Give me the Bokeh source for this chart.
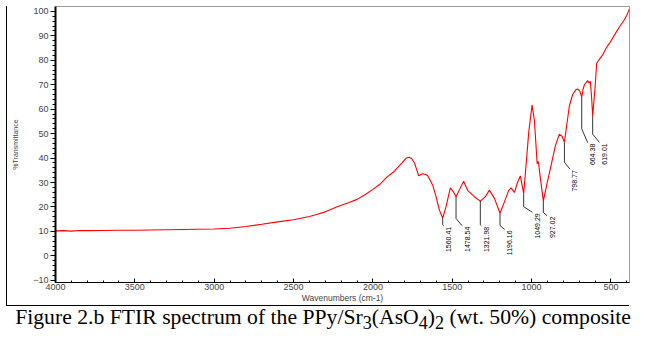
import numpy as np
from bokeh.plotting import figure
from bokeh.models import Range1d, FixedTicker, Div, Spacer
from bokeh.layouts import column, row
from bokeh.embed import file_html
from bokeh.resources import INLINE
from bokeh.core.properties import value

# ---------------- data ----------------
wavenumber = [4000, 3950, 3900, 3850, 3800, 3700, 3600, 3500, 3400, 3300, 3200, 3100,
              3000, 2900, 2800, 2700, 2600, 2500, 2400, 2350, 2300, 2225, 2150, 2100,
              2050, 2000, 1950, 1910, 1870, 1847, 1815, 1790, 1770, 1755, 1738, 1725,
              1711, 1695, 1686, 1668, 1655, 1623, 1602, 1581, 1560, 1539, 1512, 1493,
              1476, 1451, 1428, 1403, 1361, 1323, 1291, 1266, 1234, 1199, 1171, 1144,
              1129, 1108, 1088, 1071, 1050, 1035, 1018, 997, 982, 972, 965, 957, 947,
              926, 905, 877, 850, 825, 808, 793, 779, 762, 741, 720, 710, 697, 684,
              676, 667, 647, 640, 636, 630, 622, 615, 605, 598, 590, 573, 552, 531,
              510, 478, 447, 415, 400, 392, 387, 384]
transmittance = [10.2, 10.3, 10.1, 10.4, 10.3, 10.4, 10.5, 10.5, 10.6, 10.7, 10.8, 10.9,
                 11.0, 11.3, 12.0, 12.9, 13.9, 14.8, 16.1, 17.0, 18.0, 20.1, 21.8, 23.1,
                 25.0, 27.2, 29.6, 32.3, 34.3, 35.9, 38.1, 40.0, 40.3, 39.7, 38.0, 35.5,
                 32.7, 33.4, 33.6, 33.3, 32.9, 28.9, 24.2, 18.7, 15.4, 20.1, 27.8, 26.2,
                 24.2, 27.5, 30.5, 26.8, 24.2, 22.4, 24.2, 26.9, 23.5, 17.4, 22.1, 26.8,
                 27.8, 25.9, 30.2, 32.7, 25.5, 37.0, 50.5, 61.7, 55.2, 45.1, 37.7, 38.6,
                 32.9, 22.5, 28.9, 37.0, 45.1, 49.8, 48.9, 46.4, 53.2, 61.3, 66.0, 68.0,
                 68.3, 67.5, 64.9, 68.0, 70.0, 71.7, 70.9, 70.7, 71.4, 65.0, 57.2, 65.0,
                 70.7, 78.8, 80.4, 82.2, 84.9, 86.9, 90.3, 93.6, 96.6, 98.4, 99.7, 100.5,
                 101.0]

peak_labels = ["1560.41", "1478.54", "1321.98", "1196.16", "1049.29",
               "927.02", "798.77", "664.38", "619.01"]
peak_wn = [1560, 1476, 1323, 1199, 1050, 926, 793, 684, 615]

x_ticks = [4000, 3500, 3000, 2500, 2000, 1500, 1000, 500]
y_ticks = [-10, 0, 10, 20, 30, 40, 50, 60, 70, 80, 90, 100]

# ---------------- layout constants ----------------
X_START, X_END = 4000, 383
Y_BOTTOM, Y_TOP = -10.9, 102
BOX_LEFT = 6            # outer box left edge (page px)
FIG_X0 = BOX_LEFT + 1   # figure starts right of the box line
FIG_W, FIG_H = 646 - FIG_X0, 305
B_LEFT, B_RIGHT, B_TOP, B_BOTTOM = 55 - FIG_X0, 17, 6, 20
FRAME_W = FIG_W - B_LEFT - B_RIGHT
FRAME_H = FIG_H - B_TOP - B_BOTTOM
PX_WN = FRAME_W / (X_START - X_END)
PX_T = FRAME_H / (Y_TOP - Y_BOTTOM)

# leader geometry in pixels: drop below curve, diagonal dx, dy
leader_drop = [6.7, 22, 24, 12.3, 13.3, 11.7, 20, 32, 18.3]
leader_dx = [1, 6, 1, 4.7, 8.7, 3.7, 5.5, 6, 6.7]
leader_dy = [1, 7.3, 1, 4, 5.7, 3.3, 7, 14, 8.3]
TEXT_DX, TEXT_DY = 5.0, 1.0

p = figure(width=FIG_W, height=FIG_H, output_backend="svg", toolbar_location=None,
           x_range=Range1d(X_START, X_END), y_range=Range1d(Y_BOTTOM, Y_TOP),
           min_border_left=B_LEFT, min_border_right=B_RIGHT,
           min_border_top=B_TOP, min_border_bottom=B_BOTTOM,
           background_fill_color="white", border_fill_color="white", margin=0)
p.grid.visible = False
p.outline_line_color = "#9a9a9a"
p.outline_line_width = 1

p.line(wavenumber, transmittance, line_color="#ff0000", line_width=1.1)

# leaders and labels
wn_inc = np.array(wavenumber[::-1], dtype=float)
t_inc = np.array(transmittance[::-1], dtype=float)
xs, ys, tx, ty = [], [], [], []
for wn, drop, dx, dy in zip(peak_wn, leader_drop, leader_dx, leader_dy):
    t0 = float(np.interp(wn, wn_inc, t_inc))
    t1 = t0 - drop / PX_T
    wn2 = wn - dx / PX_WN
    t2 = t1 - dy / PX_T
    xs.append([wn, wn, wn2])
    ys.append([t0, t1, t2])
    tx.append(wn2 - TEXT_DX / PX_WN)
    ty.append(t2 - TEXT_DY / PX_T)
p.multi_line(xs, ys, line_color="black", line_width=0.8)
p.text(x=tx, y=ty, text=peak_labels, angle=np.pi / 2, text_align="right",
       text_baseline="middle", text_font_size="7px", text_color="black",
       text_font=value("Liberation Sans"))

# axes
ax = p.xaxis[0]
ax.ticker = FixedTicker(ticks=x_ticks, minor_ticks=list(range(400, 4001, 100)))
ax.axis_label = "Wavenumbers (cm-1)"
ax.axis_label_text_font = "Liberation Sans"
ax.axis_label_text_font_size = "8.5px"
ax.axis_label_text_font_style = "normal"
ax.axis_label_standoff = 0
ax.major_label_text_font = "Liberation Sans"
ax.major_label_text_font_size = "9px"
ax.major_label_standoff = 1
ax.major_tick_in = 4
ax.major_tick_out = 0
ax.minor_tick_in = 2
ax.minor_tick_out = 0
ax.axis_line_color = "black"
ax.major_tick_line_color = "black"
ax.minor_tick_line_color = "black"

ay = p.yaxis[0]
ay.ticker = FixedTicker(ticks=y_ticks, minor_ticks=list(range(-10, 101, 2)))
ay.axis_label = "%Transmittance"
ay.axis_label_text_font = "Liberation Sans"
ay.axis_label_text_font_size = "7px"
ay.axis_label_text_font_style = "normal"
ay.axis_label_standoff = 11
ay.major_label_text_font = "Liberation Sans"
ay.major_label_text_font_size = "9px"
ay.major_label_standoff = 2
ay.major_tick_in = 0
ay.major_tick_out = 5
ay.minor_tick_in = 0
ay.minor_tick_out = 3
ay.axis_line_width = 2
ay.axis_line_color = "black"
ay.major_tick_line_color = "black"
ay.minor_tick_line_color = "black"

# outer box lines (left and bottom) as thin blocks
left_line = Div(text="", width=1, height=FIG_H - B_TOP, margin=(B_TOP, 0, 0, 0),
                styles={"background-color": "black"})
bottom_line = Div(text="", width=629 - BOX_LEFT, height=1, margin=(0, 0, 0, BOX_LEFT),
                  styles={"background-color": "black"})

caption = Div(text="Figure 2.b FTIR spectrum of the PPy/Sr<sub>3</sub>(AsO<sub>4</sub>)<sub>2</sub> (wt. 50%) composite",
              width=646, height=44, margin=0,
              styles={"font-family": "Liberation Serif", "font-size": "21.7px",
                      "text-align": "center", "color": "black", "width": "646px",
                      "line-height": "1.1"})

top_row = row(Spacer(width=BOX_LEFT, height=FIG_H, margin=0), left_line, p, spacing=0, margin=0)
layout = column(top_row, bottom_line, caption, spacing=0, margin=0)
open("out.html", "w").write(file_html(layout, INLINE))
